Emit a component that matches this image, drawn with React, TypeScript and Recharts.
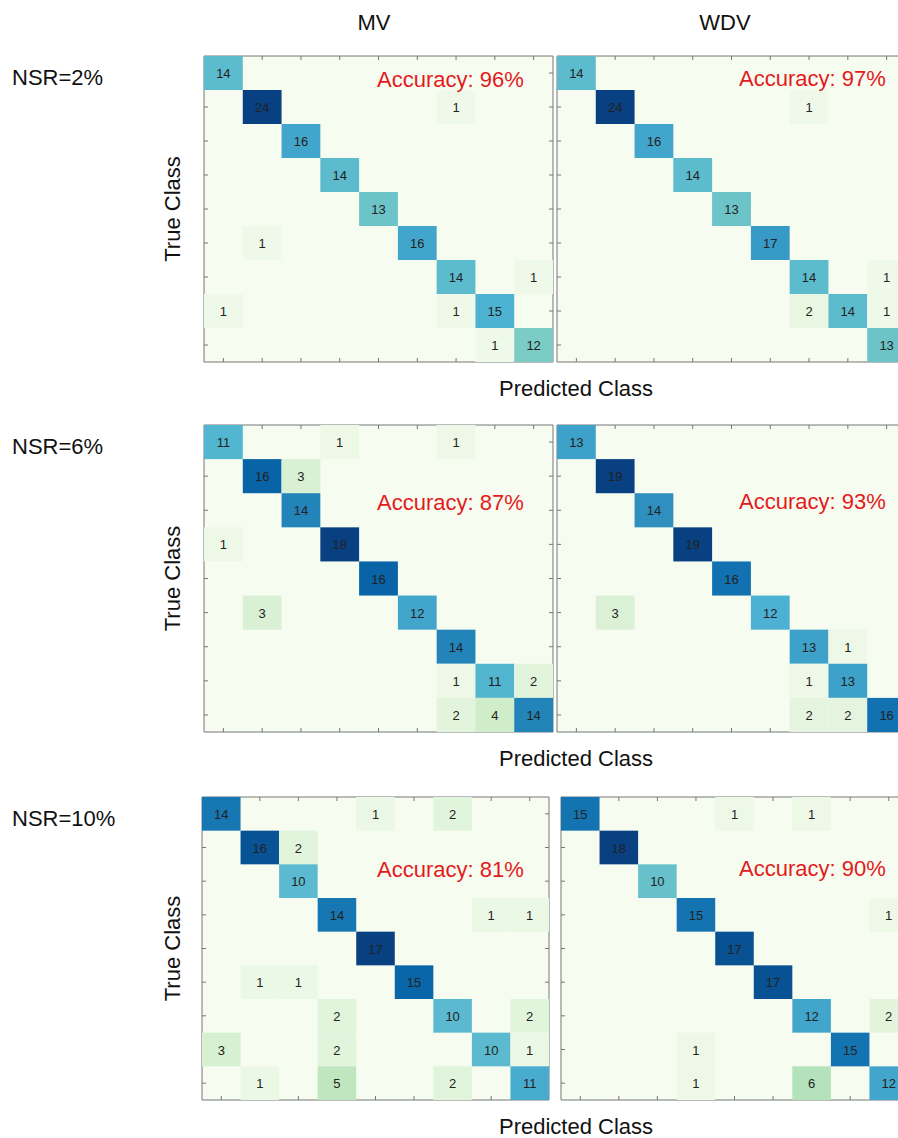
import React from 'react';
import { ScatterChart, Scatter, XAxis, YAxis } from 'recharts';

// confusion matrices, rows = true class, columns = predicted class
const mv2 = [
  [14, 0, 0, 0, 0, 0, 0, 0, 0],
  [0, 24, 0, 0, 0, 0, 1, 0, 0],
  [0, 0, 16, 0, 0, 0, 0, 0, 0],
  [0, 0, 0, 14, 0, 0, 0, 0, 0],
  [0, 0, 0, 0, 13, 0, 0, 0, 0],
  [0, 1, 0, 0, 0, 16, 0, 0, 0],
  [0, 0, 0, 0, 0, 0, 14, 0, 1],
  [1, 0, 0, 0, 0, 0, 1, 15, 0],
  [0, 0, 0, 0, 0, 0, 0, 1, 12],
];
const wdv2 = [
  [14, 0, 0, 0, 0, 0, 0, 0, 0],
  [0, 24, 0, 0, 0, 0, 1, 0, 0],
  [0, 0, 16, 0, 0, 0, 0, 0, 0],
  [0, 0, 0, 14, 0, 0, 0, 0, 0],
  [0, 0, 0, 0, 13, 0, 0, 0, 0],
  [0, 0, 0, 0, 0, 17, 0, 0, 0],
  [0, 0, 0, 0, 0, 0, 14, 0, 1],
  [0, 0, 0, 0, 0, 0, 2, 14, 1],
  [0, 0, 0, 0, 0, 0, 0, 0, 13],
];
const mv6 = [
  [11, 0, 0, 1, 0, 0, 1, 0, 0],
  [0, 16, 3, 0, 0, 0, 0, 0, 0],
  [0, 0, 14, 0, 0, 0, 0, 0, 0],
  [1, 0, 0, 18, 0, 0, 0, 0, 0],
  [0, 0, 0, 0, 16, 0, 0, 0, 0],
  [0, 3, 0, 0, 0, 12, 0, 0, 0],
  [0, 0, 0, 0, 0, 0, 14, 0, 0],
  [0, 0, 0, 0, 0, 0, 1, 11, 2],
  [0, 0, 0, 0, 0, 0, 2, 4, 14],
];
const wdv6 = [
  [13, 0, 0, 0, 0, 0, 0, 0, 0],
  [0, 19, 0, 0, 0, 0, 0, 0, 0],
  [0, 0, 14, 0, 0, 0, 0, 0, 0],
  [0, 0, 0, 19, 0, 0, 0, 0, 0],
  [0, 0, 0, 0, 16, 0, 0, 0, 0],
  [0, 3, 0, 0, 0, 12, 0, 0, 0],
  [0, 0, 0, 0, 0, 0, 13, 1, 0],
  [0, 0, 0, 0, 0, 0, 1, 13, 0],
  [0, 0, 0, 0, 0, 0, 2, 2, 16],
];
const mv10 = [
  [14, 0, 0, 0, 1, 0, 2, 0, 0],
  [0, 16, 2, 0, 0, 0, 0, 0, 0],
  [0, 0, 10, 0, 0, 0, 0, 0, 0],
  [0, 0, 0, 14, 0, 0, 0, 1, 1],
  [0, 0, 0, 0, 17, 0, 0, 0, 0],
  [0, 1, 1, 0, 0, 15, 0, 0, 0],
  [0, 0, 0, 2, 0, 0, 10, 0, 2],
  [3, 0, 0, 2, 0, 0, 0, 10, 1],
  [0, 1, 0, 5, 0, 0, 2, 0, 11],
];
const wdv10 = [
  [15, 0, 0, 0, 1, 0, 1, 0, 0],
  [0, 18, 0, 0, 0, 0, 0, 0, 0],
  [0, 0, 10, 0, 0, 0, 0, 0, 0],
  [0, 0, 0, 15, 0, 0, 0, 0, 1],
  [0, 0, 0, 0, 17, 0, 0, 0, 0],
  [0, 0, 0, 0, 0, 17, 0, 0, 0],
  [0, 0, 0, 0, 0, 0, 12, 0, 2],
  [0, 0, 0, 1, 0, 0, 0, 15, 0],
  [0, 0, 0, 1, 0, 0, 6, 0, 12],
];

const methods = ['MV', 'WDV'];
const noiseLabels = ['NSR=2%', 'NSR=6%', 'NSR=10%'];
const accuracies = [
  ['96%', '97%'],
  ['87%', '93%'],
  ['81%', '90%'],
];
const classTicks = [1, 2, 3, 4, 5, 6, 7, 8, 9];

// GnBu colour map
const GNBU = ['#f7fcf0', '#e0f3db', '#ccebc5', '#a8ddb5', '#7bccc4', '#4eb3d3', '#2b8cbe', '#0868ac', '#084081'];

const hex = (c: string) => [1, 3, 5].map((i) => parseInt(c.slice(i, i + 2), 16));
const colorFor = (t: number) => {
  const p = Math.max(0, Math.min(1, t)) * (GNBU.length - 1);
  const i = Math.min(Math.floor(p), GNBU.length - 2);
  const f = p - i;
  const a = hex(GNBU[i]);
  const b = hex(GNBU[i + 1]);
  const m = a.map((v, k) => Math.round(v + (b[k] - v) * f));
  return `rgb(${m[0]},${m[1]},${m[2]})`;
};

const FONT = "'Liberation Sans', Arial, Helvetica, sans-serif";
const AXIS = '#777777';

type PanelProps = { matrix: number[][]; left: number; top: number; w: number; h: number };

const Panel: React.FC<PanelProps> = ({ matrix, left, top, w, h }) => {
  const max = Math.max(...matrix.flat());
  const cells = matrix.flatMap((row, r) => row.map((v, c) => ({ x: c + 1, y: r + 1, v })));
  const cw = w / 9;
  const ch = h / 9;

  // zero cells are left to the background so the inner ticks stay visible
  const renderCell = (props: any) => {
    const { cx, cy, payload } = props;
    if (!payload.v) return <g />;
    return (
      <g>
        <rect x={cx - cw / 2} y={cy - ch / 2} width={cw} height={ch} fill={colorFor(payload.v / max)} />
        <text x={cx} y={cy + 5} textAnchor="middle" fontSize={13} fontFamily={FONT} fill="#222">
          {payload.v}
        </text>
      </g>
    );
  };

  const axisProps = {
    type: 'number' as const,
    domain: [0.5, 9.5],
    ticks: classTicks,
    allowDataOverflow: true,
    mirror: true,
    tickSize: 4,
    tickFormatter: () => '',
    axisLine: { stroke: AXIS },
    tickLine: { stroke: AXIS },
  };

  return (
    <div style={{ position: 'absolute', left: left - 1, top: top - 1, width: w + 2, height: h + 2 }}>
      <div style={{ position: 'absolute', left: 1, top: 1, width: w, height: h, background: GNBU[0] }} />
      <ScatterChart width={w + 2} height={h + 2} margin={{ top: 1, right: 1, bottom: 1, left: 1 }}>
        <XAxis xAxisId="b" dataKey="x" orientation="bottom" {...axisProps} />
        <XAxis xAxisId="t" dataKey="x" orientation="top" {...axisProps} />
        <YAxis yAxisId="l" dataKey="y" orientation="left" reversed {...axisProps} />
        <YAxis yAxisId="r" dataKey="y" orientation="right" reversed {...axisProps} />
        <Scatter data={cells} xAxisId="b" yAxisId="l" shape={renderCell} isAnimationActive={false} />
      </ScatterChart>
    </div>
  );
};

const rows = [
  { top: 56, h: 306, xs: [204, 557], w: 349, matrices: [mv2, wdv2] },
  { top: 425, h: 307, xs: [204, 557], w: 349, matrices: [mv6, wdv6] },
  { top: 797, h: 303, xs: [202, 561], w: 347, matrices: [mv10, wdv10] },
];
const accY = [87, 510, 877];

export default function App() {
  return (
    <div
      style={{
        position: 'absolute',
        left: 0,
        top: 0,
        width: 898,
        height: 1138,
        overflow: 'hidden',
        background: '#fff',
        fontFamily: FONT,
      }}
    >
      {rows.map((row, ri) =>
        row.matrices.map((m, ci) => (
          <Panel key={`${ri}-${ci}`} matrix={m} left={row.xs[ci]} top={row.top} w={row.w} h={row.h} />
        ))
      )}
      <svg width={898} height={1138} style={{ position: 'absolute', left: 0, top: 0, pointerEvents: 'none' }}>
        <g fontFamily={FONT} fontSize={22} fill="#111">
          {methods.map((name, i) => (
            <text key={name} x={i === 0 ? 374 : 725} y={30} textAnchor="middle">
              {name}
            </text>
          ))}
          {rows.map((row, ri) => (
            <g key={ri}>
              <text x={12} y={85 + row.top - 56}>
                {noiseLabels[ri]}
              </text>
              <text
                x={180}
                y={row.top + row.h / 2}
                textAnchor="middle"
                transform={`rotate(-90 180 ${row.top + row.h / 2})`}
              >
                True Class
              </text>
              <text x={499} y={ri === 2 ? 1134 : row.top + row.h + 34}>
                Predicted Class
              </text>
              {accuracies[ri].map((a, ci) => (
                <text key={ci} x={ci === 0 ? 377 : 739} y={accY[ri] - (ci === 1 ? 1 : 0)} fill="#e31a1c">
                  Accuracy: {a}
                </text>
              ))}
            </g>
          ))}
        </g>
      </svg>
    </div>
  );
}
